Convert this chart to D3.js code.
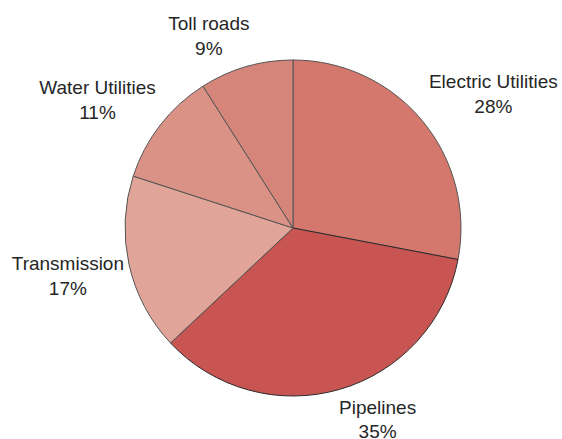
<!DOCTYPE html>
<html>
<head>
<meta charset="utf-8">
<script src="https://cdn.jsdelivr.net/npm/d3@7"></script>
<style>
  body { margin: 0; background: #fff; }
  text { font-family: "Liberation Sans", Arial, sans-serif; fill: #262626; }
</style>
</head>
<body>
<svg width="562" height="439"></svg>
<script>
const sectors = ["Electric Utilities", "Pipelines", "Transmission", "Water Utilities", "Toll roads"];
const shares = [28, 35, 17, 11, 9];
const colors = ["#d4776c", "#c95553", "#e0a598", "#da9286", "#d6857b"];

const svg = d3.select("svg");
const cx = 293;
const cy = 228;
const radius = 168;

const data = sectors.map((name, i) => ({ name, value: shares[i], color: colors[i] }));

const pie = d3.pie().sort(null).value((d) => d.value);
const arc = d3.arc().innerRadius(0).outerRadius(radius);
const arcs = pie(data);

const g = svg.append("g").attr("transform", `translate(${cx},${cy})`);

g.selectAll("path")
  .data(arcs)
  .enter()
  .append("path")
  .attr("d", arc)
  .attr("fill", (d) => d.data.color)
  .attr("stroke", (d) => (d.data.name === "Pipelines" ? "#2a2a2a" : "#555"))
  .attr("stroke-width", 1);

// labels sit just outside the rim, box pushed outward along the mid angle
const nudge = {
  "Electric Utilities": [2, 3],
  Pipelines: [20, -12],
  Transmission: [18, 3],
  "Water Utilities": [3, 4],
  "Toll roads": [-19, 14],
};

const labels = g
  .selectAll(".label")
  .data(arcs)
  .enter()
  .append("text")
  .attr("class", "label")
  .attr("text-anchor", "middle")
  .style("font-size", "19px");

labels.each(function (d) {
  const t = d3.select(this);
  const a = (d.startAngle + d.endAngle) / 2;
  t.append("tspan").text(d.data.name);
  const width = this.getBBox().width + 10;
  const h = 50;
  const r = radius + 20;
  const n = nudge[d.data.name];
  const x = r * Math.sin(a) + (width / 2) * Math.sin(a) + n[0];
  const y = -r * Math.cos(a) - (h / 2) * Math.cos(a) + n[1];
  t.select("tspan").attr("x", x).attr("y", y - 12).attr("dominant-baseline", "middle");
  t.append("tspan")
    .attr("x", x)
    .attr("y", y + 12.5)
    .attr("dominant-baseline", "middle")
    .text(d.data.value + "%");
});
</script>
</body>
</html>
